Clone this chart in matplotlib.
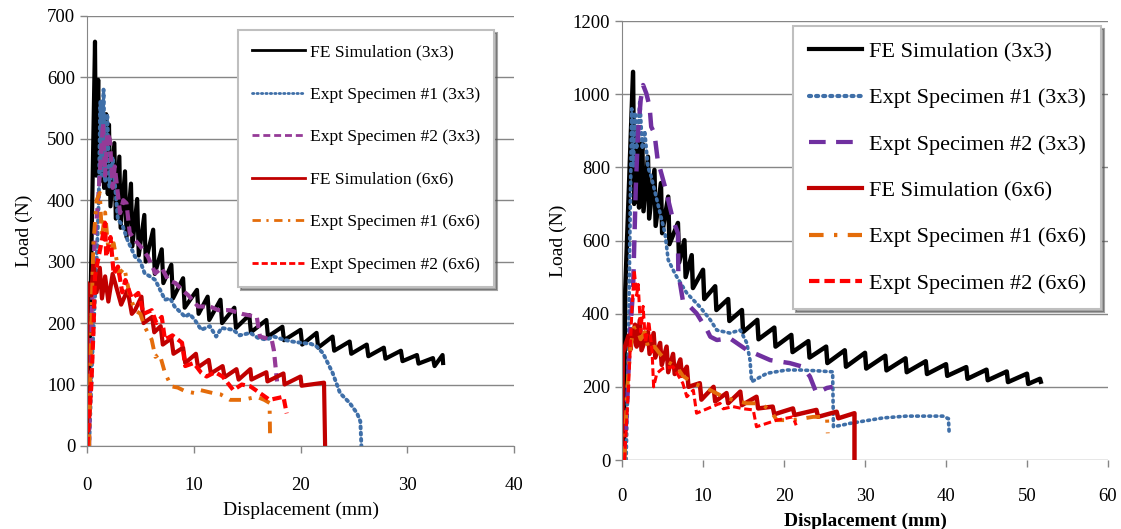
import matplotlib
matplotlib.use("Agg")
import matplotlib.pyplot as plt

plt.rcParams['font.family'] = ['Liberation Serif', 'DejaVu Serif']

labels = ['FE Simulation (3x3)', 'Expt Specimen #1 (3x3)', 'Expt Specimen #2 (3x3)',
          'FE Simulation (6x6)', 'Expt Specimen #1 (6x6)', 'Expt Specimen #2 (6x6)']

# ---- left chart: load vs displacement ----
fe33_x = [0.1, 0.75, 0.85, 1.05, 1.2, 1.45, 1.6, 1.8, 1.95, 2.06, 2.2, 2.56, 2.7, 3.03, 3.15,
          3.56, 3.7, 4.12, 4.25, 4.7, 4.85, 5.37, 5.5, 6.2, 6.35, 7.0, 7.15, 7.9, 8.05, 9.0,
          9.15, 10.3, 10.45, 11.3, 11.45, 12.5, 12.65, 13.8, 13.95, 15.2, 15.35, 16.8, 16.95,
          18.3, 18.45, 20.0, 20.15, 21.5, 21.65, 23.0, 23.15, 24.6, 24.75, 26.2, 26.35, 27.8,
          27.95, 29.4, 29.55, 30.9, 31.05, 32.4, 32.55, 33.3, 33.35]
fe33_y = [0, 658, 440, 596, 430, 560, 420, 540, 410, 523, 390, 493, 370, 471, 355,
          447, 340, 427, 325, 402, 310, 376, 300, 352, 280, 320, 265, 295, 240, 273,
          225, 254, 215, 243, 205, 238, 200, 225, 192, 213, 185, 205, 178,
          194, 172, 189, 165, 184, 160, 178, 155, 170, 150, 165, 146, 160,
          142, 155, 138, 148, 134, 143, 130, 148, 135]

ex1_33_x = [0.2, 0.5, 0.9, 1.1, 1.25, 1.4, 1.55, 1.7, 1.9, 2.1, 2.4, 2.9, 3.3, 3.8, 4.5, 5.0,
            5.4, 6.0, 6.4, 7.3, 7.8, 8.2, 9.2, 9.6, 10.1, 10.7, 11.5, 12.1, 12.6, 13.7, 14.3,
            15.3, 16.0, 16.8, 17.5, 18.4, 19.2, 20.0, 21.0, 21.5, 22.1, 23.0, 23.7, 24.6,
            25.3, 25.6, 25.7]
ex1_33_y = [0, 150, 300, 400, 560, 440, 580, 430, 540, 420, 470, 368, 360, 335, 308, 300,
            281, 275, 270, 238, 240, 227, 210, 215, 205, 189, 195, 178, 192, 189, 180,
            184, 176, 173, 178, 173, 170, 168, 166, 162, 151, 119, 86, 70,
            53, 40, 0]

ex2_33_x = [0.2, 0.4, 0.7, 1.0, 1.3, 1.5, 1.7, 1.9, 2.15, 2.4, 2.6, 3.1, 3.4, 3.7, 4.0, 4.5,
            5.0, 5.7, 6.4, 7.0, 7.6, 8.3, 8.9, 9.5, 10.4, 11.5, 12.3, 13.4, 14.5, 15.9, 16.2,
            17.3, 17.5, 17.8]
ex2_33_y = [0, 200, 330, 390, 470, 526, 440, 510, 498, 420, 455, 379, 400, 395, 347, 335,
            325, 308, 281, 290, 270, 265, 254, 245, 227, 227, 221, 221, 215, 210, 178,
            173, 156, 105]

fe66_x = [0, 0.05, 0.4, 0.6, 0.9, 1.2, 1.4, 1.7, 2.0, 2.4, 2.9, 3.2, 3.8, 4.2, 4.5, 5.1, 5.3,
          6.1, 6.3, 6.9, 7.1, 7.9, 8.1, 9.0, 9.2, 10.2, 10.4, 11.4, 11.6, 12.7, 12.9, 14.0,
          14.2, 15.3, 15.4, 16.8, 16.9, 18.4, 18.5, 20.0, 20.1, 22.2, 22.3]
fe66_y = [0, 265, 245, 300, 250, 290, 240, 276, 235, 280, 249, 230, 254, 215, 221, 243, 200,
          210, 185, 195, 165, 175, 150, 160, 135, 150, 128, 140, 118, 130, 112, 125,
          108, 125, 108, 120, 105, 118, 100, 113, 98, 103, 0]

ex1_66_x = [0.2, 0.4, 0.6, 0.9, 1.2, 1.4, 1.7, 2.0, 2.5, 3.0, 3.5, 4.0, 4.5, 5.0, 5.4, 6.06,
            6.4, 6.8, 7.3, 7.9, 8.5, 9.2, 10.1, 10.6, 11.8, 12.5, 13.4, 14.6, 15.9, 16.6,
            17.1, 17.15]
ex1_66_y = [0, 200, 330, 400, 412, 340, 380, 319, 330, 280, 290, 245, 221, 215, 194, 173,
            145, 150, 119, 97, 95, 89, 86, 91, 86, 84, 75, 75, 80, 75,
            70, 10]

ex2_66_x = [0.05, 0.1, 0.4, 0.6, 0.75, 1.0, 1.4, 1.7, 1.8, 2.2, 2.5, 2.9, 3.3, 3.6, 4.2, 4.8,
            5.3, 6.06, 6.5, 7.0, 7.3, 8.0, 8.9, 9.2, 10.0, 10.7, 11.2, 12.0, 12.7, 13.7,
            14.5, 15.3, 16.2, 17.1, 18.4, 18.7]
ex2_66_y = [0, 20, 97, 184, 276, 300, 335, 363, 308, 340, 280, 292, 250, 270, 240, 249,
            215, 221, 200, 210, 173, 180, 168, 130, 135, 119, 113, 120, 113, 91,
            100, 97, 86, 75, 80, 53]

# ---- right chart: load vs displacement ----
r_fe33_x = [0.2, 0.4, 1.36, 1.5, 1.97, 2.1, 2.5, 2.65, 3.2, 3.35, 4.0, 4.15, 4.8, 4.95, 5.7,
            5.85, 6.9, 7.05, 7.7, 7.85, 8.6, 8.75, 10.0, 10.15, 11.5, 11.65, 13.1, 13.25,
            14.8, 14.95, 16.7, 16.85, 18.8, 18.95, 20.9, 21.05, 23.0, 23.15, 25.2, 25.35,
            27.5, 27.65, 30.0, 30.15, 32.5, 32.65, 35.0, 35.15, 37.5, 37.65, 40.0, 40.15,
            42.5, 42.65, 45.0, 45.15, 47.5, 47.65, 50.0, 50.15, 51.6, 51.7]
r_fe33_y = [0, 465, 1061, 700, 884, 690, 866, 680, 829, 660, 793, 640, 757, 620, 720,
            590, 648, 540, 601, 500, 560, 470, 520, 440, 475, 410, 440, 380,
            410, 350, 383, 330, 362, 310, 342, 295, 325, 280, 310, 265,
            300, 255, 293, 250, 285, 245, 278, 240, 270, 235, 262, 230,
            254, 222, 247, 218, 242, 213, 236, 208, 222, 214]

r_ex1_33_x = [0.5, 0.8, 0.95, 1.2, 1.4, 1.6, 1.8, 2.2, 2.5, 2.8, 3.2, 3.6, 4.4, 5.3, 5.7,
              6.5, 6.75, 8.0, 9.6, 10.9, 11.7, 13.3, 14.6, 15.4, 15.8, 16.0, 17.9, 20.3,
              22.0, 24.0, 26.0, 26.1, 27.3, 28.1, 32.2, 35.1, 39.6, 40.3, 40.4]
r_ex1_33_y = [0, 300, 592, 960, 800, 950, 850, 984, 850, 900, 800, 775, 702, 620, 547,
              511, 501, 456, 419, 383, 355, 347, 355, 320, 273, 214, 237, 246,
              246, 244, 241, 91, 96, 100, 115, 120, 120, 113, 68]

r_ex2_33_x = [0.2, 0.6, 1.0, 1.36, 1.5, 1.7, 1.97, 2.3, 2.6, 3.0, 3.4, 3.6, 4.0, 4.4, 5.3,
              5.7, 6.3, 6.9, 6.95, 7.5, 8.4, 9.2, 10.5, 10.9, 11.7, 13.3, 15.4, 18.3, 20.7,
              22.3, 23.2, 24.0, 25.3, 26.0]
r_ex2_33_y = [0, 137, 350, 465, 583, 747, 893, 984, 1025, 1002, 966, 911, 893, 820, 747,
              711, 656, 620, 511, 437, 419, 401, 355, 337, 328, 333, 301, 273, 265,
              255, 228, 183, 197, 200]

r_fe66_x = [0, 0.1, 0.8, 1.0, 1.6, 1.8, 2.2, 2.4, 3.2, 3.4, 3.9, 4.1, 4.7, 4.9, 5.5, 5.7,
            6.3, 6.5, 7.2, 7.4, 8.0, 8.2, 9.6, 9.8, 11.3, 11.5, 12.9, 13.1, 14.6, 14.8, 16.6,
            16.8, 18.6, 18.8, 21.1, 21.3, 24.0, 24.2, 26.5, 26.7, 28.7, 28.7]
r_fe66_y = [0, 292, 340, 300, 370, 310, 383, 300, 350, 290, 347, 280, 320, 260, 310, 240,
            290, 235, 275, 230, 255, 200, 210, 165, 200, 160, 183, 155, 187, 150, 173,
            141, 146, 125, 141, 123, 137, 118, 132, 114, 128, 0]

r_ex1_66_x = [0.3, 0.6, 1.0, 1.4, 1.8, 2.3, 2.8, 3.3, 4.0, 4.7, 5.5, 6.75, 7.5, 8.8, 10.0,
              10.9, 12.5, 13.7, 15.4, 17.0, 18.3, 19.1, 21.1, 23.6, 25.3, 25.4]
r_ex1_66_y = [0, 182, 300, 360, 364, 330, 350, 300, 310, 290, 270, 255, 230, 210, 200,
              191, 173, 164, 155, 155, 137, 109, 109, 118, 118, 73]

r_ex2_66_x = [0.3, 0.8, 1.2, 1.5, 1.8, 2.0, 2.3, 2.6, 2.9, 3.3, 3.7, 3.9, 4.3, 5.0, 6.3, 7.5,
              8.0, 8.8, 9.2, 10.5, 12.1, 12.5, 13.7, 15.0, 16.2, 16.6, 19.1, 21.1, 21.5]
r_ex2_66_y = [0, 200, 400, 520, 450, 480, 350, 420, 320, 380, 300, 200, 237, 250, 255, 210,
              173, 191, 128, 140, 155, 140, 146, 140, 137, 91, 109, 118, 95]

fig = plt.figure(figsize=(11.21, 5.29), dpi=100)
grid_c = '#868686'


def style_axes(ax, xmax, ymax, ystep, fs, bottom_spine=True):
    ax.set_xlim(0, xmax)
    ax.set_ylim(0, ymax)
    ax.set_xticks(range(0, xmax + 1, 10))
    ax.set_yticks(range(0, ymax + 1, ystep))
    ax.yaxis.grid(True, color=grid_c, lw=1.0)
    ax.set_axisbelow(True)
    for s in ['top', 'right']:
        ax.spines[s].set_visible(False)
    ax.spines['left'].set_color(grid_c)
    ax.spines['bottom'].set_color(grid_c)
    ax.spines['bottom'].set_visible(bottom_spine)
    ax.tick_params(axis='both', colors=grid_c, labelcolor='black', labelsize=fs,
                   length=5, width=1)


# left panel
ax1 = fig.add_axes([0.0776, 0.157, 0.381, 0.813])
style_axes(ax1, 40, 700, 100, 13.5)
ax1.tick_params(axis='x', pad=17)
ax1.plot(fe33_x, fe33_y, color='black', lw=3.0, label=labels[0])
ax1.plot(ex1_33_x, ex1_33_y, color='#3F6FA8', lw=2.8, ls=(0, (0.5, 1.1)),
         dash_capstyle='round', label=labels[1])
ax1.plot(ex2_33_x, ex2_33_y, color='#953A97', lw=3.0, ls=(0, (2.5, 1.4)), label=labels[2])
ax1.plot(fe66_x, fe66_y, color='#C00000', lw=3.0, label=labels[3])
ax1.plot(ex1_66_x, ex1_66_y, color='#E46C0A', lw=2.8, ls=(0, (3, 2, 0.8, 2)), label=labels[4])
ax1.plot(ex2_66_x, ex2_66_y, color='#FF0000', lw=3.0, ls=(0, (2.2, 1.1)), label=labels[5])
ax1.set_xlabel('Displacement (mm)', fontsize=14, labelpad=6)
ax1.set_ylabel('Load (N)', fontsize=14, labelpad=10)
leg1 = ax1.legend(loc='upper left', bbox_to_anchor=(238 / 1121, 1 - 30 / 529),
                  bbox_transform=fig.transFigure, borderaxespad=0, fontsize=12.6,
                  handlelength=3.0, labelspacing=1.5, borderpad=0.8, handletextpad=0.3,
                  frameon=True, fancybox=False, shadow=True, edgecolor='#BFBFBF',
                  framealpha=1)
leg1.get_frame().set_linewidth(1.5)
for h in leg1.get_lines():
    h.set_linewidth(2)

# right panel
ax2 = fig.add_axes([0.5549, 0.1304, 0.4335, 0.8299])
style_axes(ax2, 60, 1200, 200, 13.5, bottom_spine=False)
ax2.tick_params(axis='x', pad=15)
ax2.plot(r_fe33_x, r_fe33_y, color='black', lw=3.2, label=labels[0])
ax2.plot(r_ex1_33_x, r_ex1_33_y, color='#3F6FA8', lw=2.6, ls=(0, (0.5, 1.2)),
         dash_capstyle='round', label=labels[1])
ax2.plot(r_ex2_33_x, r_ex2_33_y, color='#7030A0', lw=3.2, ls=(0, (4, 2.5)), label=labels[2])
ax2.plot(r_fe66_x, r_fe66_y, color='#C00000', lw=3.2, label=labels[3])
ax2.plot(r_ex1_66_x, r_ex1_66_y, color='#E46C0A', lw=2.8, ls=(0, (3.5, 2.5, 0.8, 2.5)),
         label=labels[4])
ax2.plot(r_ex2_66_x, r_ex2_66_y, color='#FF0000', lw=2.2, ls=(0, (2.5, 1.2)), label=labels[5])
ax2.set_xlabel('Displacement (mm)', fontsize=14, fontweight='bold', labelpad=6)
ax2.set_ylabel('Load (N)', fontsize=14, labelpad=4)
leg2 = ax2.legend(loc='upper left', bbox_to_anchor=(793 / 1121, 1 - 26 / 529),
                  bbox_transform=fig.transFigure, borderaxespad=0, fontsize=16,
                  handlelength=2.4, labelspacing=1.16, borderpad=0.7, handletextpad=0.3,
                  frameon=True, fancybox=False, shadow=True, edgecolor='#BFBFBF',
                  framealpha=1)
leg2.get_frame().set_linewidth(1.5)
for h in leg2.get_lines():
    h.set_linewidth(3)

fig.savefig('out.png', dpi=100)
